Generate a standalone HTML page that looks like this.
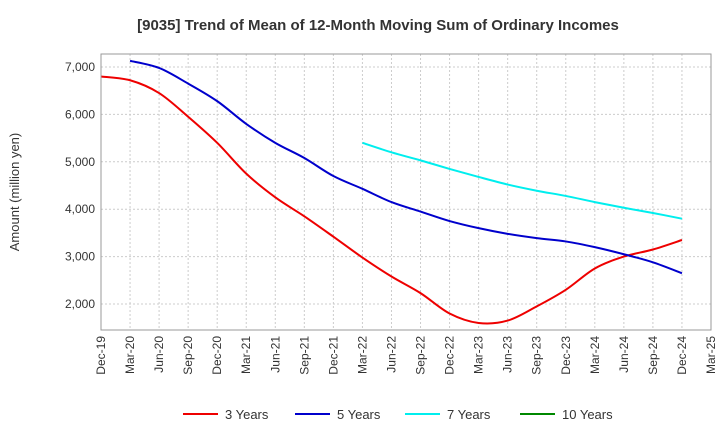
<!DOCTYPE html>
<html><head><meta charset="utf-8"><style>
body{margin:0;background:#fff;font-family:"Liberation Sans",sans-serif;}
svg{display:block}
</style></head><body>
<svg id="chart" width="720" height="440">
<text x="378" y="30" text-anchor="middle" font-size="15" font-weight="bold" fill="#333">[9035]  Trend of Mean of 12-Month Moving Sum of Ordinary Incomes</text>
<text transform="translate(19,192) rotate(-90)" text-anchor="middle" font-size="13" fill="#333">Amount (million yen)</text>
<g id="grid"></g><g id="series"></g><g id="axes"></g>
<rect x="101" y="54" width="610" height="276" fill="none" stroke="#999"/>
<g id="legend"></g>
</svg>
<script>
const xLabels=["Dec-19","Mar-20","Jun-20","Sep-20","Dec-20","Mar-21","Jun-21","Sep-21","Dec-21","Mar-22","Jun-22","Sep-22","Dec-22","Mar-23","Jun-23","Sep-23","Dec-23","Mar-24","Jun-24","Sep-24","Dec-24","Mar-25"];
const yTicks=[2000,3000,4000,5000,6000,7000];
const s3=[6800,6720,6450,5950,5400,4750,4250,3850,3420,2980,2580,2230,1800,1600,1650,1950,2300,2750,3000,3150,3350];
const s5=[null,7130,6980,6650,6280,5800,5400,5080,4700,4430,4150,3950,3750,3600,3480,3390,3320,3200,3050,2880,2650];
const s7=[null,null,null,null,null,null,null,null,null,5400,5200,5030,4850,4680,4520,4390,4280,4150,4030,3920,3800];
const s10=[];
const seriesNames=["3 Years","5 Years","7 Years","10 Years"];
const colors=["#e00","#00c","#0ee","#080"];
const NS="http://www.w3.org/2000/svg";
const X0=101,X1=711,Y0=54,Y1=330;
const xs=i=>X0+i*(X1-X0)/(xLabels.length-1);
const ys=v=>67+(7000-v)*0.0474;
function mk(t,a,p){const e=document.createElementNS(NS,t);for(const k in a)e.setAttribute(k,a[k]);p.appendChild(e);return e;}
const grid=document.getElementById('grid'),axes=document.getElementById('axes'),ser=document.getElementById('series'),leg=document.getElementById('legend');
yTicks.forEach(v=>{
 const l=mk('line',{x1:X0,x2:X1,y1:ys(v),y2:ys(v),stroke:'#ccc','stroke-dasharray':'2,2'},grid);
 
 
 const t=mk('text',{x:X0-6,y:ys(v)+4,'text-anchor':'end','font-size':'12',fill:'#333'},axes);
 t.textContent=v.toLocaleString('en-US');
 
 
});
xLabels.forEach((lab,i)=>{
 const l=mk('line',{x1:xs(i),x2:xs(i),y1:Y0,y2:Y1,stroke:'#ccc','stroke-dasharray':'2,2'},grid);
 
 
 const t=mk('text',{transform:`translate(${xs(i)+4},${Y1+6}) rotate(-90)`,'text-anchor':'end','font-size':'12',fill:'#333'},axes);
 t.textContent=lab;
 
 
});
function path(data){
 const pts=[];data.forEach((v,i)=>{if(v!=null)pts.push([xs(i),ys(v)]);});
 if(pts.length<2)return '';
 let d=`M${pts[0][0]},${pts[0][1]}`;
 for(let i=0;i<pts.length-1;i++){
  const p0=pts[i-1]||pts[i],p1=pts[i],p2=pts[i+1],p3=pts[i+2]||p2;
  d+=` C${p1[0]+(p2[0]-p0[0])/6},${p1[1]+(p2[1]-p0[1])/6} ${p2[0]-(p3[0]-p1[0])/6},${p2[1]-(p3[1]-p1[1])/6} ${p2[0]},${p2[1]}`;
 }
 return d;
}
[s3,s5,s7,s10].forEach((s,k)=>{
 const p=mk('path',{d:path(s),fill:'none',stroke:colors[k],'stroke-width':2},ser);
 
 
});
const lx=[183,295,405,520];
seriesNames.forEach((n,k)=>{
 const g=mk('g',{},leg);
 
 
 mk('line',{x1:lx[k],x2:lx[k]+35,y1:414,y2:414,stroke:colors[k],'stroke-width':2},g);
 const t=mk('text',{x:lx[k]+42,y:419,'font-size':'13',fill:'#333'},g);
 t.textContent=n;
});
</script>
</body></html>
